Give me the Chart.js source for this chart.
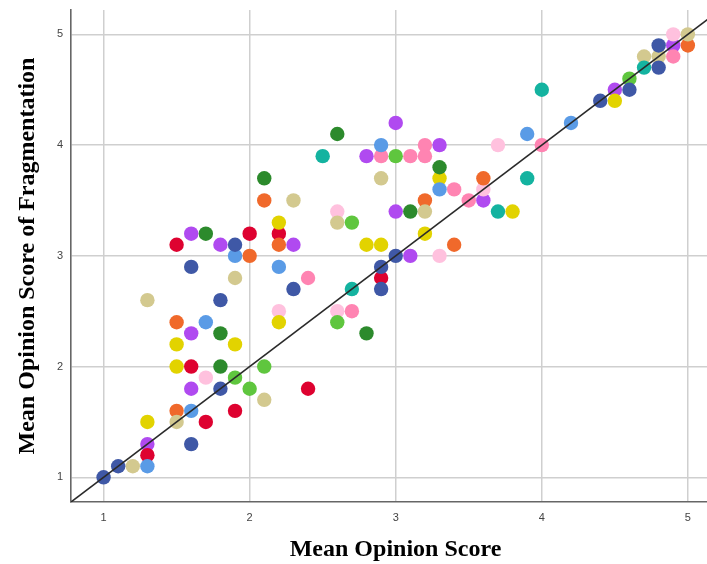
<!DOCTYPE html>
<html>
<head>
<meta charset="utf-8">
<script src="https://cdn.jsdelivr.net/npm/chart.js@4"></script>
<style>
  html, body { margin: 0; padding: 0; background: #fff; overflow: hidden; }
  #wrap { width: 707px; height: 564px; position: relative; overflow: hidden; }
</style>
</head>
<body>
<div id="wrap"><canvas id="chart" width="720" height="564"></canvas></div>
<script>
// points per group, [Mean Opinion Score, Mean Opinion Score of Fragmentation]
const navy = [[1.0,1.0],[1.1,1.1],[1.6,1.3],[1.8,1.8],[1.6,2.9],[1.8,2.6],[1.9,3.1],[2.3,2.7],[2.9,2.9],[2.9,2.7],[3.0,3.0],[4.4,4.4],[4.6,4.5],[4.8,4.7],[4.8,4.9]];
const blue = [[1.3,1.1],[1.6,1.6],[1.7,2.4],[1.9,3.0],[2.2,2.9],[2.9,4.0],[3.3,3.6],[3.9,4.1],[4.2,4.2]];
const teal = [[2.5,3.9],[2.7,2.7],[3.7,3.4],[3.9,3.7],[4.0,4.5],[4.7,4.7]];
const darkGreen = [[1.7,3.2],[1.8,2.3],[1.8,2.0],[2.1,3.7],[2.6,4.1],[2.8,2.3],[3.1,3.4],[3.3,3.8]];
const lime = [[1.9,1.9],[2.0,1.8],[2.1,2.0],[2.6,2.4],[2.7,3.3],[3.0,3.9],[4.6,4.6]];
const yellow = [[1.3,1.5],[1.5,2.0],[1.5,2.2],[1.9,2.2],[2.2,3.3],[2.2,2.4],[2.8,3.1],[2.9,3.1],[3.2,3.2],[3.3,3.7],[3.8,3.4],[4.5,4.4]];
const tan = [[1.2,1.1],[1.3,2.6],[1.5,1.5],[1.9,2.8],[2.1,1.7],[2.3,3.5],[2.6,3.3],[2.9,3.7],[3.2,3.4],[4.7,4.8],[4.8,4.8],[5.0,5.0]];
const orange = [[1.5,1.6],[1.5,2.4],[2.0,3.0],[2.1,3.5],[2.2,3.1],[3.2,3.5],[3.4,3.1],[3.6,3.7],[5.0,4.9]];
const red = [[1.3,1.2],[1.5,3.1],[1.6,2.0],[1.7,1.5],[1.9,1.6],[2.0,3.2],[2.2,3.2],[2.4,1.8],[2.9,2.8]];
const pink = [[2.4,2.8],[2.7,2.5],[2.9,3.9],[3.1,3.9],[3.2,4.0],[3.2,3.9],[3.4,3.6],[3.5,3.5],[4.0,4.0],[4.9,4.8]];
const lightPink = [[1.7,1.9],[2.2,2.5],[2.6,3.4],[2.6,2.5],[3.3,3.0],[3.6,3.6],[3.7,4.0],[4.9,5.0]];
const purple = [[1.3,1.3],[1.6,1.8],[1.6,2.3],[1.6,3.2],[1.8,3.1],[2.3,3.1],[2.8,3.9],[3.0,4.2],[3.0,3.4],[3.1,3.0],[3.3,4.0],[3.6,3.5],[4.5,4.5],[4.9,4.9]];

const tickVals = [1, 2, 3, 4, 5];
const refLine = [0.7, 5.3];   // y = x reference line ends

const groups = [
  { pts: navy,      color: '#3f58a6' },
  { pts: blue,      color: '#5a9be6' },
  { pts: teal,      color: '#14b3a0' },
  { pts: darkGreen, color: '#2c8a2c' },
  { pts: lime,      color: '#5fc63e' },
  { pts: yellow,    color: '#e2d300' },
  { pts: tan,       color: '#d3c98f' },
  { pts: orange,    color: '#f0692b' },
  { pts: red,       color: '#de0230' },
  { pts: pink,      color: '#ff84b2' },
  { pts: lightPink, color: '#ffc1de' },
  { pts: purple,    color: '#b04af0' }
];

const datasets = [{
  type: 'line',
  data: refLine.map(v => ({ x: v, y: v })),
  borderColor: '#2a2a2a',
  borderWidth: 1.6,
  pointRadius: 0,
  clip: 0
}];
groups.forEach(g => {
  datasets.push({
    data: g.pts.map(p => ({ x: p[0], y: p[1] })),
    backgroundColor: g.color,
    borderWidth: 0,
    pointRadius: 7.2,
    pointHoverRadius: 7.2
  });
});

const tickFont = { family: 'Liberation Sans, Arial, sans-serif', size: 11 };
const titleFont = { family: 'Liberation Serif, Times New Roman, serif', size: 24, weight: 'bold' };

// canvas is a bit wider than the window, the right end of the plot is cut off like the original
new Chart(document.getElementById('chart'), {
  type: 'scatter',
  data: { datasets },
  options: {
    responsive: false,
    animation: false,
    layout: { autoPadding: false, padding: { top: 10, right: 0, left: 0, bottom: 0 } },
    plugins: { legend: { display: false }, tooltip: { enabled: false } },
    scales: {
      x: {
        type: 'linear',
        min: 0.777,
        max: 5.22,
        afterBuildTicks: axis => { axis.ticks = tickVals.map(v => ({ value: v })); },
        afterFit: axis => { axis.height = 62; axis.paddingLeft = 0; axis.paddingRight = 0; },
        grid: { color: '#cfcfcf', lineWidth: 1.5, drawTicks: false },
        border: { color: '#666', width: 1.6 },
        ticks: { font: tickFont, color: '#444', padding: 9 },
        title: { display: true, text: 'Mean Opinion Score', font: titleFont, color: '#000', padding: { top: 6, bottom: 0 } }
      },
      y: {
        type: 'linear',
        min: 0.777,
        max: 5.22,
        afterBuildTicks: axis => { axis.ticks = tickVals.map(v => ({ value: v })); },
        afterFit: axis => { axis.width = 71; axis.paddingTop = 0; axis.paddingBottom = 0; },
        grid: { color: '#cfcfcf', lineWidth: 1.5, drawTicks: false },
        border: { color: '#666', width: 1.6 },
        ticks: { font: tickFont, color: '#444', padding: 8 },
        title: { display: true, text: 'Mean Opinion Score of Fragmentation', font: titleFont, color: '#000', padding: { top: 13, bottom: 0 } }
      }
    }
  }
});
</script>
</body>
</html>
